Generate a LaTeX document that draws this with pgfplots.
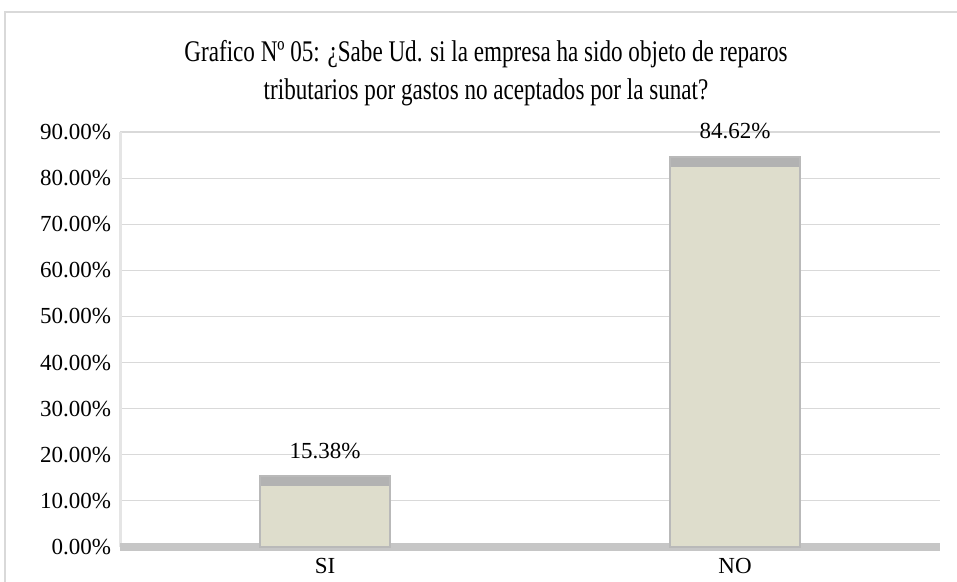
\documentclass[border=0pt]{standalone}
\usepackage{pgfplots}
\pgfplotsset{compat=1.18}
\usepackage{fontspec}
\setmainfont{Liberation Serif}
\definecolor{barfill}{RGB}{222,221,204}
\definecolor{bartop}{RGB}{178,178,178}
\definecolor{gridc}{RGB}{217,217,217}
\definecolor{framec}{RGB}{217,217,217}
\begin{document}
\begin{tikzpicture}[x=1pt,y=1pt]
\begin{axis}[
  at={(0,0)}, anchor=south west,
  scale only axis,
  width=410pt, height=207.5pt,
  ymin=0, ymax=90,
  xmin=-0.5, xmax=1.5,
  xtick=data,
  xticklabels={SI,NO},
  ytick={0,10,...,90},
  /pgf/number format/assume math mode=true,
  yticklabel={\pgfmathprintnumber[fixed,fixed zerofill,precision=2]{\tick}\%},
  ymajorgrids,
  grid style={draw=gridc, line width=0.6pt},
  major tick length=0pt,
  axis line style={draw=none},
  tick label style={font=\fontsize{11.5}{13}\selectfont},
  yticklabel style={xshift=-1pt},
  xticklabel style={yshift=-2pt},
  clip=false,
]
\draw[gray!20, line width=1.5pt] (rel axis cs:0,0) -- (rel axis cs:0,1);
\draw[gray!45, line width=4pt] (rel axis cs:0,0) -- (rel axis cs:1,0);
\addplot[ybar, bar width=65pt, fill=barfill, draw=gray!55, line width=1pt,
  nodes near coords={\pgfmathprintnumber[fixed,fixed zerofill,precision=2]{\pgfplotspointmeta}\%},
  nodes near coords style={font=\fontsize{11.5}{13}\selectfont, yshift=5pt, text=black}]
  coordinates {(0,15.38) (1,84.62)};
\addplot[only marks, mark=-, mark size=32pt,
  mark options={draw=bartop, line width=4.5pt, yshift=-2.6pt}]
  coordinates {(0,15.38) (1,84.62)};
\end{axis}
\node[align=center, xscale=0.77, transform shape, font=\fontsize{15}{19}\selectfont] at (183pt,237pt)
  {Grafico Nº 05: ¿Sabe Ud. si la empresa ha sido objeto de reparos\\tributarios por gastos no aceptados por la sunat?};
\draw[framec, line width=1pt] (-57.5pt,-17.5pt) -- (-57.5pt,267.5pt) -- (418.5pt,267.5pt);
\pgfresetboundingbox
\useasboundingbox (-60pt,-17.5pt) rectangle (418.5pt,273.5pt);
\end{tikzpicture}
\end{document}
